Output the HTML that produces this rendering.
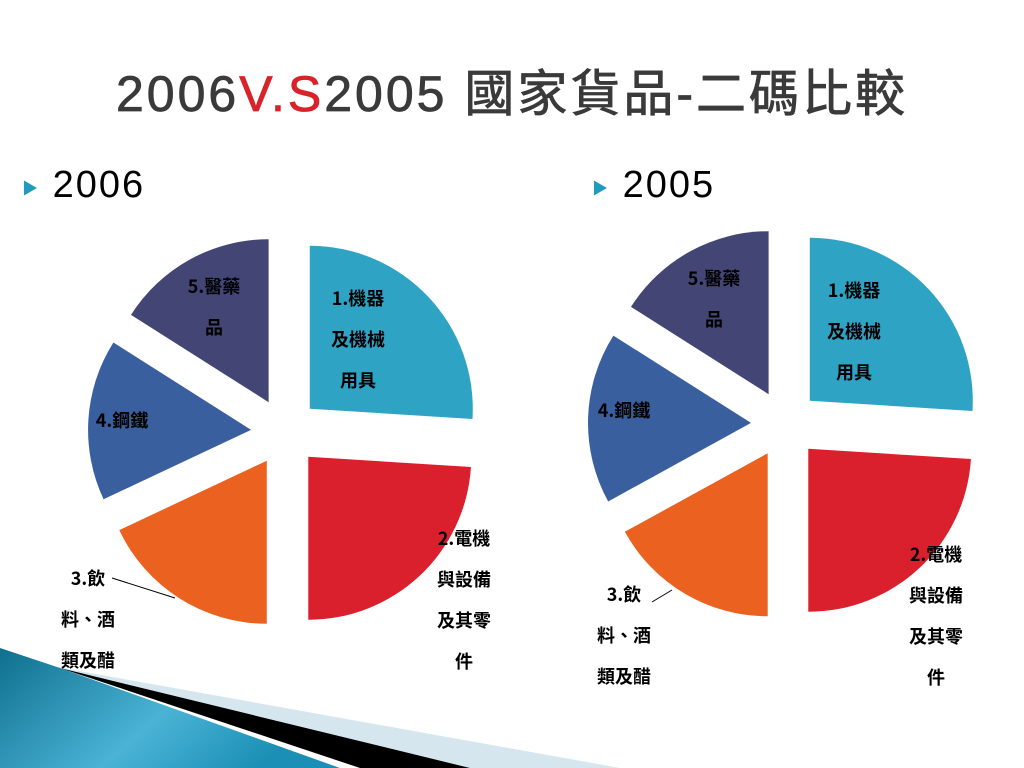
<!DOCTYPE html>
<html><head><meta charset="utf-8"><style>
body{margin:0;width:1024px;height:768px;overflow:hidden;background:#fff;font-family:"Liberation Sans","Noto Sans CJK TC",sans-serif;position:relative}
.t{position:absolute;font-family:"Liberation Sans","Noto Sans CJK TC",sans-serif}
.lbl{position:absolute;font-family:"Noto Sans CJK TC",sans-serif;font-size:18px;font-weight:bold;line-height:41px;text-align:center;color:#000}
</style></head><body>
<svg width="1024" height="768" style="position:absolute;left:0;top:0">
<defs><linearGradient id="bg" x1="0" y1="0" x2="1" y2="0.4"><stop offset="0" stop-color="#0f6f8e"/><stop offset="0.6" stop-color="#4ab3d6"/><stop offset="1" stop-color="#1b8fb5"/></linearGradient></defs>
<polygon points="40,664 620,768 420,768" fill="#d6e6ef"/>
<polygon points="60,668 470,768 360,768" fill="#000"/>
<polygon points="0,648 60,668 340,768 0,768" fill="url(#bg)"/>
</svg>
<div class="t" style="left:0;width:1024px;top:54px;text-align:center;font-size:50px;color:#3a3a3a;letter-spacing:3px;-webkit-text-stroke:0.8px #3a3a3a">2006<span style="color:#d8232a;-webkit-text-stroke:0.8px #d8232a">V.S</span>2005 國家貨品-二碼比較</div>
<div class="t" style="left:22px;top:164px;font-size:38px;letter-spacing:2px;color:#000"><span style="color:#1f9bc0;font-size:16px;vertical-align:middle">▶</span> 2006</div>
<div class="t" style="left:592px;top:164px;font-size:38px;letter-spacing:2px;color:#000"><span style="color:#1f9bc0;font-size:16px;vertical-align:middle">▶</span> 2005</div>
<svg id="c" width="1024" height="768" style="position:absolute;left:0;top:0"></svg>
<div class="lbl" style="left:318px;top:278px;width:80px">1.機器<br>及機械<br>用具</div>
<div class="lbl" style="left:424px;top:518px;width:80px">2.電機<br>與設備<br>及其零<br>件</div>
<div class="lbl" style="left:48px;top:558px;width:80px">3.飲<br>料、酒<br>類及醋</div>
<div class="lbl" style="left:82px;top:400px;width:80px">4.鋼鐵</div>
<div class="lbl" style="left:174px;top:266px;width:80px">5.醫藥<br>品</div>
<div class="lbl" style="left:814px;top:270px;width:80px">1.機器<br>及機械<br>用具</div>
<div class="lbl" style="left:896px;top:534px;width:80px">2.電機<br>與設備<br>及其零<br>件</div>
<div class="lbl" style="left:584px;top:574px;width:80px">3.飲<br>料、酒<br>類及醋</div>
<div class="lbl" style="left:584px;top:390px;width:80px">4.鋼鐵</div>
<div class="lbl" style="left:674px;top:258px;width:80px">5.醫藥<br>品</div>
<script>
const categories=["1.機器及機械用具","2.電機與設備及其零件","3.飲料、酒類及醋","4.鋼鐵","5.醫藥品"];
const values2006=[26,24,18,16,16];
const values2005=[26,24,17,17,16];
const colors=["#2fa3c3","#d9202c","#ea6120","#3a5f9f","#434675"];
const svg=document.getElementById('c');
const NS='http://www.w3.org/2000/svg';
function pie(vals,cx,cy,r,d,name){
  const tot=vals.reduce((a,b)=>a+b,0);let a0=0;
  vals.forEach((v,i)=>{
    const a1=a0+v/tot*2*Math.PI,mid=(a0+a1)/2;
    const ox=cx+d*Math.sin(mid),oy=cy-d*Math.cos(mid);
    const p=(a)=>[ox+r*Math.sin(a),oy-r*Math.cos(a)];
    const s=p(a0),e=p(a1);
    const path=document.createElementNS(NS,'path');
    path.setAttribute('d',`M${ox},${oy}L${s[0]},${s[1]}A${r},${r} 0 ${a1-a0>Math.PI?1:0} 1 ${e[0]},${e[1]}Z`);
    path.setAttribute('fill',colors[i]);
    
    
    svg.appendChild(path);
    a0=a1;
  });
}
pie(values2006,285,432,163,34,'pie-2006');
pie(values2005,785,424,163,34,'pie-2005');
function line(x1,y1,x2,y2){const l=document.createElementNS(NS,'polyline');l.setAttribute('points',`${x1},${y1} ${x2},${y2}`);l.setAttribute('stroke','#000');l.setAttribute('fill','none');


svg.appendChild(l);}
line(112,578,175,598);line(652,602,672,590);
</script>
</body></html>
